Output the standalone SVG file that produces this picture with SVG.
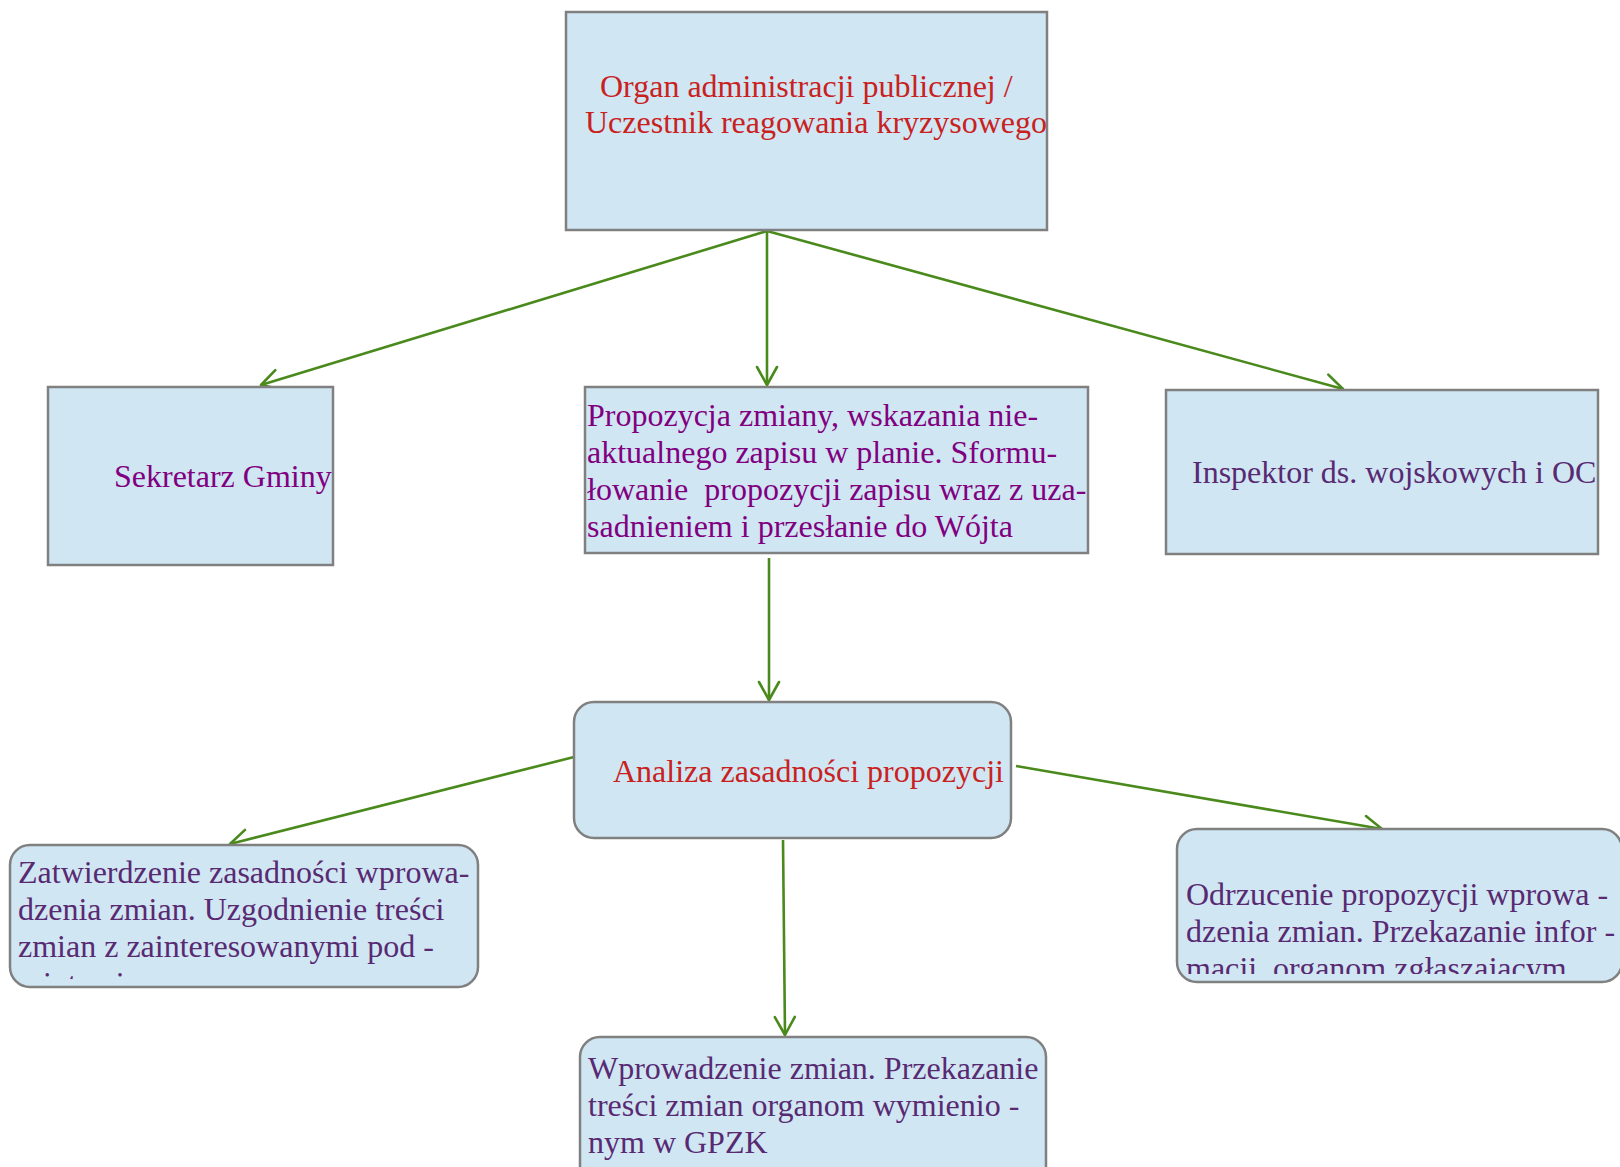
<svg xmlns="http://www.w3.org/2000/svg" width="1620" height="1167" viewBox="0 0 1620 1167">
<style>
.box{fill:#d0e6f3;stroke:#808080;stroke-width:2.5}
.t{font-family:"Liberation Serif","Times New Roman",serif;font-size:32px;white-space:pre}
.red{fill:#c9211e}
.mag{fill:#800080}
.pur{fill:#582a72}
.c{fill:none;stroke:#4a8a1c;stroke-width:2.6;marker-end:url(#ah)}
</style>
<defs>
<marker id="ah" markerUnits="userSpaceOnUse" orient="auto" refX="0" refY="0" markerWidth="30" markerHeight="30" viewBox="-25 -15 30 30" overflow="visible">
<path d="M-18,-10 L0,0 L-18,10" fill="none" stroke="#4a8a1c" stroke-width="2.6" stroke-linecap="round" stroke-linejoin="round"/>
</marker>
<clipPath id="clipZ"><rect x="10" y="844" width="468" height="135"/></clipPath>
<clipPath id="clipO"><rect x="1177" y="829" width="445" height="145"/></clipPath>
</defs>

<g id="connectors">
<line class="c" x1="767" y1="231" x2="261" y2="385"/>
<line class="c" x1="767" y1="231" x2="767" y2="385"/>
<line class="c" x1="767" y1="231" x2="1343" y2="389"/>
<line class="c" x1="769" y1="558" x2="769" y2="700"/>
<line class="c" x1="574" y1="757" x2="230" y2="844"/>
<line class="c" x1="783" y1="840" x2="785" y2="1035"/>
<line class="c" x1="1016" y1="766" x2="1382" y2="829"/>
</g>

<g id="node-organ">
<rect class="box" x="566" y="12" width="481" height="218"/>
<text class="t red" x="600" y="97">Organ administracji publicznej /</text>
<text class="t red" x="585" y="133">Uczestnik reagowania kryzysowego</text>
</g>

<g id="node-sekretarz">
<rect class="box" x="48" y="387" width="285" height="178"/>
<text class="t mag" x="114" y="487">Sekretarz Gminy</text>
</g>

<g id="node-propozycja">
<rect class="box" x="585" y="387" width="503" height="166"/>
<text class="t mag" x="587" y="426">Propozycja zmiany, wskazania nie-</text>
<text class="t mag" x="587" y="463">aktualnego zapisu w planie. Sformu-</text>
<text class="t mag" x="587" y="500">łowanie  propozycji zapisu wraz z uza-</text>
<text class="t mag" x="587" y="537">sadnieniem i przesłanie do Wójta</text>
</g>

<g id="node-inspektor">
<rect class="box" x="1166" y="390" width="432" height="164"/>
<text class="t pur" x="1192" y="483">Inspektor ds. wojskowych i OC</text>
</g>

<g id="node-analiza">
<rect class="box" x="574" y="702" width="437" height="136" rx="20" ry="20"/>
<text class="t red" x="613" y="782">Analiza zasadności propozycji</text>
</g>

<g id="node-zatwierdzenie">
<rect class="box" x="10" y="845" width="468" height="142" rx="20" ry="20"/>
<g clip-path="url(#clipZ)">
<text class="t pur" x="18" y="883">Zatwierdzenie zasadności wprowa-</text>
<text class="t pur" x="18" y="920">dzenia zmian. Uzgodnienie treści</text>
<text class="t pur" x="18" y="957">zmian z zainteresowanymi pod -</text>
<text class="t pur" x="18" y="994">miotami</text>
</g>
</g>

<g id="node-odrzucenie">
<rect class="box" x="1177" y="829" width="445" height="153" rx="20" ry="20"/>
<g clip-path="url(#clipO)">
<text class="t pur" x="1186" y="905">Odrzucenie propozycji wprowa -</text>
<text class="t pur" x="1186" y="942">dzenia zmian. Przekazanie infor -</text>
<text class="t pur" x="1186" y="979">macji  organom zgłaszającym</text>
</g>
</g>

<g id="node-wprowadzenie">
<rect class="box" x="580" y="1037" width="466" height="150" rx="20" ry="20"/>
<text class="t pur" x="588" y="1079">Wprowadzenie zmian. Przekazanie</text>
<text class="t pur" x="588" y="1116">treści zmian organom wymienio -</text>
<text class="t pur" x="588" y="1153">nym w GPZK</text>
</g>
</svg>
